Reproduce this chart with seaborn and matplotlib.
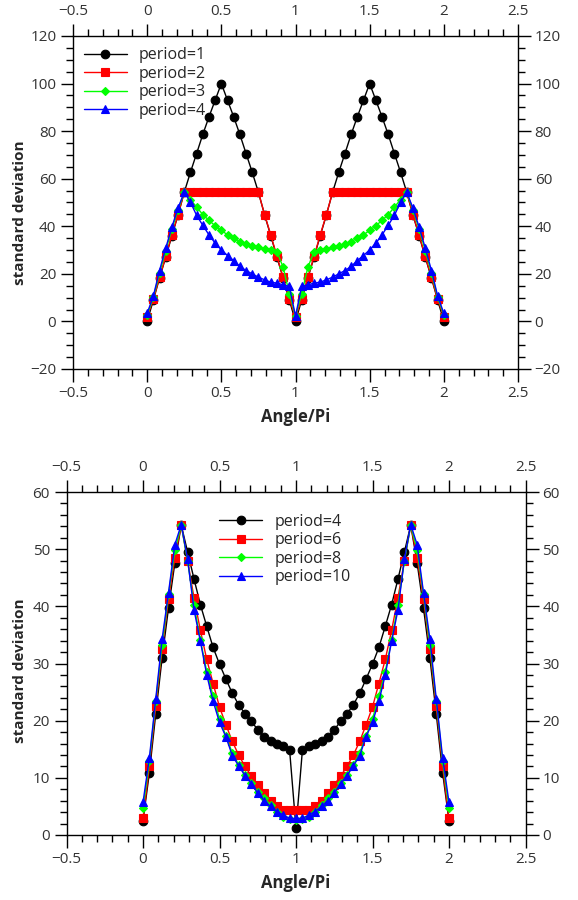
import numpy as np
import seaborn as sns
import matplotlib
matplotlib.use("Agg")
import matplotlib.pyplot as plt
from matplotlib.ticker import MultipleLocator, FuncFormatter

# x grid: angle in units of pi, sampled every pi/24
angle = np.arange(49) / 24

# top panel
period1 = [0, 9.0, 18.2, 27.0, 36.0, 44.8, 54.3, 62.7, 70.6, 78.6, 86.0, 93.0, 100.0,
           93.0, 86.0, 78.6, 70.6, 62.7, 54.3, 44.8, 36.0, 27.0, 18.2, 9.0, 0,
           9.0, 18.2, 27.0, 36.0, 44.8, 54.3, 62.7, 70.6, 78.6, 86.0, 93.0, 100.0,
           93.0, 86.0, 78.6, 70.6, 62.7, 54.3, 44.8, 36.0, 27.0, 18.2, 9.0, 0]
period2 = [2.0, 9.3, 18.5, 27.3, 36.4, 44.9, 54.3, 54.3, 54.3, 54.3, 54.3, 54.3, 54.3,
           54.3, 54.3, 54.3, 54.3, 54.3, 54.3, 44.9, 36.4, 27.3, 18.5, 9.3, 2.0,
           9.3, 18.5, 27.3, 36.4, 44.9, 54.3, 54.3, 54.3, 54.3, 54.3, 54.3, 54.3,
           54.3, 54.3, 54.3, 54.3, 54.3, 54.3, 44.9, 36.4, 27.3, 18.5, 9.3, 2.0]
period3 = [2.7, 10.2, 20.3, 29.8, 38.8, 47.0, 54.3, 51.2, 48.1, 44.9, 42.5, 40.2, 38.3,
           36.4, 35.0, 33.6, 32.5, 31.8, 31.1, 30.6, 30.0, 29.3, 22.8, 11.7, 2.4,
           11.7, 22.8, 29.3, 30.0, 30.6, 31.1, 31.8, 32.5, 33.6, 35.0, 36.4, 38.3,
           40.2, 42.5, 44.9, 48.1, 51.2, 54.3, 47.0, 38.8, 29.8, 20.3, 10.2, 2.7]
period4 = [3.4, 10.7, 21.4, 30.8, 39.7, 47.7, 54.3, 50.1, 44.6, 40.4, 36.4, 32.9, 30.1,
           27.7, 25.6, 23.1, 21.4, 20.0, 18.6, 17.5, 16.5, 16.1, 15.4, 14.7, 2.3,
           14.7, 15.4, 16.1, 16.5, 17.5, 18.6, 20.0, 21.4, 23.1, 25.6, 27.7, 30.1,
           32.9, 36.4, 40.4, 44.6, 50.1, 54.3, 47.7, 39.7, 30.8, 21.4, 10.7, 3.4]

# bottom panel
b_period4 = [2.5, 10.9, 21.2, 31.0, 39.7, 47.6, 54.2, 49.5, 44.8, 40.3, 36.5, 32.8, 29.9,
             27.3, 24.8, 22.8, 21.2, 19.9, 18.4, 17.2, 16.5, 16.0, 15.5, 14.8, 1.2,
             14.8, 15.5, 16.0, 16.5, 17.2, 18.4, 19.9, 21.2, 22.8, 24.8, 27.3, 29.9,
             32.8, 36.5, 40.3, 44.8, 49.5, 54.2, 47.6, 39.7, 31.0, 21.2, 10.9, 2.5]
b_period6 = [2.9, 12.0, 22.5, 32.5, 41.3, 48.5, 54.2, 48.0, 41.5, 35.8, 30.7, 26.5, 22.4,
             19.3, 16.4, 14.0, 12.0, 10.3, 8.8, 7.3, 6.0, 5.1, 4.4, 4.4, 4.4,
             4.4, 4.4, 5.1, 6.0, 7.3, 8.8, 10.3, 12.0, 14.0, 16.4, 19.3, 22.4,
             26.5, 30.7, 35.8, 41.5, 48.0, 54.2, 48.5, 41.3, 32.5, 22.5, 12.0, 2.9]
b_period8 = [4.7, 12.9, 23.4, 33.3, 42.1, 49.8, 54.2, 47.9, 40.3, 34.1, 28.6, 24.3, 20.3,
             17.3, 14.4, 12.3, 10.5, 9.1, 7.6, 6.5, 5.3, 4.1, 3.2, 2.8, 2.6,
             2.8, 3.2, 4.1, 5.3, 6.5, 7.6, 9.1, 10.5, 12.3, 14.4, 17.3, 20.3,
             24.3, 28.6, 34.1, 40.3, 47.9, 54.2, 49.8, 42.1, 33.3, 23.4, 12.9, 4.7]
b_period10 = [5.7, 13.5, 23.8, 34.3, 42.4, 50.8, 54.3, 48.2, 39.4, 33.9, 28.0, 23.4, 19.7,
              17.2, 13.9, 12.1, 10.4, 9.0, 7.3, 6.0, 5.0, 4.1, 3.5, 2.9, 2.9,
              2.9, 3.5, 4.1, 5.0, 6.0, 7.3, 9.0, 10.4, 12.1, 13.9, 17.2, 19.7,
              23.4, 28.0, 33.9, 39.4, 48.2, 54.3, 50.8, 42.4, 34.3, 23.8, 13.5, 5.7]

top_labels = ["period=1", "period=2", "period=3", "period=4"]
bottom_labels = ["period=4", "period=6", "period=8", "period=10"]

colors = ["black", "#ff0000", "#00ff00", "#0000ff"]
markers = ["o", "s", "D", "^"]
msizes = [6.2, 6.2, 3.8, 6.2]

sns.set_style("ticks")
plt.rcParams['font.family'] = ['Open Sans', 'DejaVu Sans']
plt.rcParams['axes.unicode_minus'] = True

fmt = FuncFormatter(lambda v, p: f"{v:g}".replace("-", "\u2212"))


def style_axes(ax, ymin, ymax, ymaj, ymin_step, ylab_pos):
    ax.set_xlim(-0.5, 2.5)
    ax.set_ylim(ymin, ymax)
    ax.xaxis.set_major_locator(MultipleLocator(0.5))
    ax.xaxis.set_minor_locator(MultipleLocator(0.1))
    ax.yaxis.set_major_locator(MultipleLocator(ymaj))
    ax.yaxis.set_minor_locator(MultipleLocator(ymin_step))
    ax.xaxis.set_major_formatter(fmt)
    ax.yaxis.set_major_formatter(fmt)
    ax.tick_params(which="both", direction="out", top=True, right=True,
                   labeltop=True, labelright=True, width=1, color="black")
    ax.tick_params(which="major", length=9, labelsize=11, labelcolor="#333333", pad=3)
    ax.tick_params(which="minor", length=5)
    for s in ax.spines.values():
        s.set_linewidth(1)
        s.set_color("black")
    ax.set_xlabel("Angle/Pi", fontsize=12, fontweight="bold", labelpad=5)
    ax.set_ylabel("standard deviation", fontsize=11, fontweight="bold")
    ax.yaxis.set_label_coords(ylab_pos[0], ylab_pos[1])


def draw(ax, series, labels):
    for vals, lab, c, m, ms in zip(series, labels, colors, markers, msizes):
        sns.lineplot(x=angle, y=vals, ax=ax, color=c, marker=m, markersize=ms,
                     markeredgecolor=c, markeredgewidth=0.8, linewidth=1, label=lab)


fig = plt.figure(figsize=(5.78, 9), dpi=100)
ax1 = fig.add_axes([73 / 578, 1 - 369 / 900, 445 / 578, 333 / 900])
ax2 = fig.add_axes([66.5 / 578, 1 - 835 / 900, 459 / 578, 343 / 900])

draw(ax1, [period1, period2, period3, period4], top_labels)
style_axes(ax1, -20, 120, 20, 5, (-46 / 445, 0.47))
ax1.legend(loc="upper left", bbox_to_anchor=(0.01, 0.985), frameon=False,
           fontsize=11.5, handlelength=2.7, handletextpad=0.75, labelspacing=0.16,
           borderaxespad=0)

draw(ax2, [b_period4, b_period6, b_period8, b_period10], bottom_labels)
style_axes(ax2, 0, 60, 10, 2, (-39.5 / 459, 0.48))
ax2.legend(loc="upper left", bbox_to_anchor=(0.319, 0.955), frameon=False,
           fontsize=11.5, handlelength=2.7, handletextpad=0.75, labelspacing=0.16,
           borderaxespad=0)

fig.savefig("out.png", dpi=100)
